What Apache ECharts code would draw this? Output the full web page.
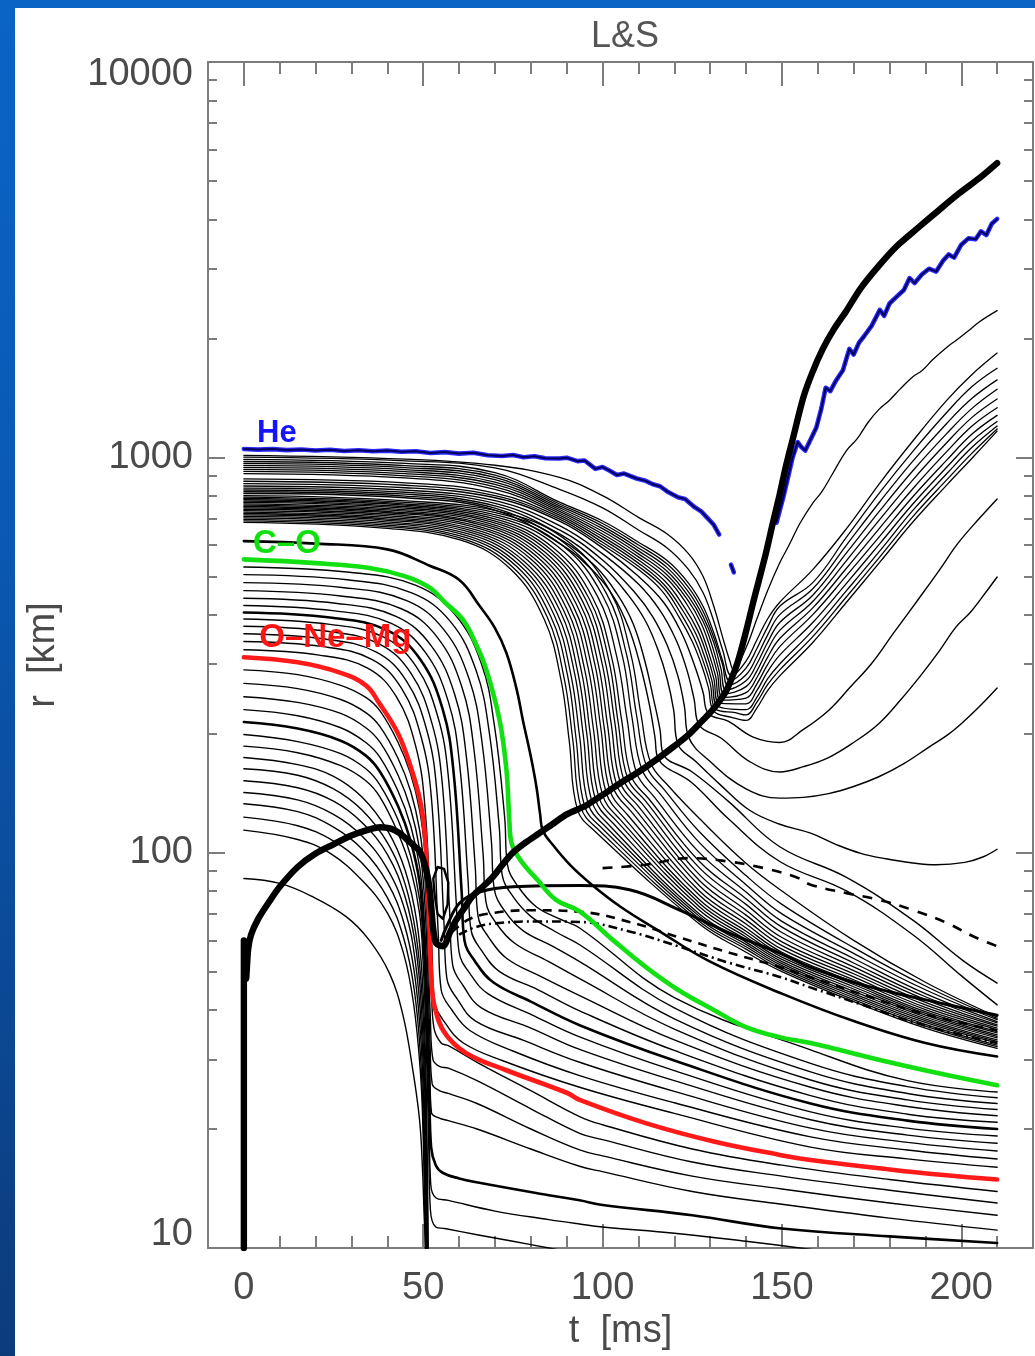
<!DOCTYPE html>
<html>
<head>
<meta charset="utf-8">
<script src="https://cdn.jsdelivr.net/npm/echarts@6/dist/echarts.min.js"></script>
<style>
html, body { margin: 0; padding: 0; width: 1035px; height: 1356px; overflow: hidden; }
body { background: linear-gradient(180deg, #0a64c6 0%, #0a5ab6 35%, #0b4a98 70%, #0c3b7a 100%); }
#panel { position: absolute; left: 15px; top: 8px; width: 1020px; height: 1348px; background: #fff; }
#chart { position: absolute; left: 0; top: 0; width: 1035px; height: 1356px; }
</style>
</head>
<body>
<div id="panel"></div>
<div id="chart"></div>
<script>
// ---- axis ticks ----
const tMajorTicks = [0, 50, 100, 150, 200];
const rDecadeTicks = [10, 100, 1000, 10000];
const rMinorTicks = [20, 30, 40, 50, 60, 70, 80, 90, 200, 300, 400, 500, 600, 700, 800, 900,
  2000, 3000, 4000, 5000, 6000, 7000, 8000, 9000];

// ---- trajectories: [t (ms), r (km)] ----
// shells inside the O-Ne-Mg boundary
const innerShells = [
  [[0,290],[15,282],[27,265],[34,247],[38,228],[43,190],[46.5,158],[49,128],[50.5,100],[51.5,70],[52.3,45],[53,36],[55,33],[57,32.5],[65,29.5],[80,25],[93.6,21.5],[100,20.5],[125,17.8],[150,16.2],[180,14.9],[210,13.9]],
  [[0,268],[15,260],[27,244],[34,226],[38,208],[43,173],[46.5,143],[49,114],[50.4,88],[51.3,60],[52,38],[52.7,30],[54.5,28.8],[57,28.5],[65,26.5],[80,22.5],[93.6,19.5],[100,18.8],[125,16.5],[150,15.2],[180,14],[210,13]],
  [[0,248],[15,240],[27,225],[34,207],[38,190],[43,157],[46.5,129],[49,102],[50.3,78],[51.2,52],[51.9,33],[52.5,26],[54.5,25],[57,24.6],[65,23.2],[80,20],[93.6,17.7],[100,17.1],[125,15.2],[150,14.1],[180,13],[210,12.1]],
  [[0,230],[15,222],[27,207],[34,190],[38,174],[43,143],[46.5,117],[49,92],[50.2,70],[51.1,46],[51.8,29],[52.3,22],[54.5,21.3],[57,21],[65,20],[80,17.8],[93.6,16.1],[100,15.6],[125,13.9],[150,12.9],[180,11.9],[210,11.1]],
  [[0,199],[15,191],[27,178],[34,163],[38,148],[43,121],[46.5,98],[49,76],[50.1,57],[50.9,37],[51.6,22],[52.1,14.5],[53.5,13.4],[57,13.2],[70,12.4],[85,11.8],[93.6,11.5],[100,11.3],[120,10.9],[140,10.4],[155,10],[170,9.6]],
  [[0,186],[15,179],[27,166],[34,152],[38,138],[43,112],[46.5,91],[49,70],[50,52],[50.8,34],[51.5,19],[52,12.5],[53.5,11.3],[56,11.2],[65,10.8],[75,10.4],[85,10],[95,9.6]],
  [[0,174],[15,167],[25,156],[33,138],[40,114],[45,90],[48.2,67],[49.8,47],[50.7,29],[51.2,15],[51.5,8]],
  [[0,163],[15,157],[25,145],[33,128],[40,106],[45,83],[48,62],[49.7,43],[50.6,26],[51.1,14],[51.4,8]],
  [[0,152],[15,146],[25,135],[33,119],[40,99],[45,77],[48,57],[49.6,39],[50.5,24],[51,13],[51.3,8]],
  [[0,142],[15,136],[25,125],[33,110],[40,91],[45,71],[47.8,53],[49.5,36],[50.4,22],[50.9,12.5],[51.2,8]],
  [[0,133],[15,127],[25,116],[33,102],[40,84],[44.5,67],[47.5,50],[49.4,33],[50.3,20],[50.8,11.5],[51.1,8]],
  [[0,123],[15,117],[25,107],[33,94],[40,77],[44.5,61],[47.5,45],[49.3,30],[50.2,18],[50.7,10.5],[51,8]],
  [[0,114],[15,108],[24,99.7],[33,85],[40,70.4],[44.5,55.7],[47.3,41.6],[49.2,28],[50,19],[50.5,11],[50.8,8]],
  [[0,86],[10,83.6],[19,77.5],[28.6,68.8],[35,60],[40.6,49.5],[44.3,39],[47.1,28.2],[49,21],[49.8,15.8],[50.3,11.8],[50.6,10.3],[50.8,8]]
];
const innerShellThick = [[0,214],[15,206],[27,192],[34,176],[38,160],[43,131],[46.5,107],[49,84],[50.1,63],[51,41],[51.7,25],[52.2,18],[53.5,16.2],[55.4,15.5],[60,15],[66,14.6],[85,13.6],[93.6,13.2],[100,12.85],[125,12.1],[150,11.2],[180,10.7],[210,10.3]];

// O-Ne-Mg boundary
const oNeMgShell = [[0,312],[15,303],[27,285],[34,265],[37.6,240],[43,200],[46.5,165],[49,137],[50.3,115],[51,92],[51.8,63],[52.3,47],[53.2,40.7],[56,35],[62,31.1],[73,28.2],[90,24.7],[93.6,23.7],[112,20.7],[131,18.6],[149.4,17.2],[158,16.7],[180,15.8],[195,15.3],[210,14.9]];

// shells between O-Ne-Mg and C-O boundaries
const midShells = [
  [[0,326],[21,316],[34.5,293],[42.5,248],[47.9,186],[50.5,130],[52.4,58],[53.2,42],[56.2,37],[61.2,33],[72,29.8],[93.6,25.5],[120,21.9],[158,18],[185,16.8],[210,16]],
  [[0,342],[22,332],[35.8,308],[44,260],[49.5,195],[52.3,137],[54.2,62],[55,45],[58,40],[63,35.5],[75,31.5],[93.6,27.3],[120,23.3],[158,19.1],[185,17.7],[210,16.8]],
  [[0,358],[22.6,347],[36.8,322],[45.3,272],[51,204],[53.8,143],[55.8,66],[56.6,48],[59.6,42.5],[64.6,37.5],[78,33.5],[93.6,29.5],[120,24.9],[158,20.1],[185,18.5],[210,17.6]],
  [[0,374],[23.3,363],[37.8,337],[46.6,284],[52.4,213],[55.3,150],[57.4,70],[58.2,52],[61.2,46],[66.2,40.5],[80,36],[93.6,31.8],[120,26.5],[158,21.1],[185,19.3],[210,18.4]],
  [[0,390],[24,378],[39,351],[48,296],[54,222],[57,156],[59.2,75],[60,56],[63,49.5],[68,44],[80,39],[93.6,34.2],[120,28.1],[158,22.1],[185,20.1],[210,19.2]],
  [[0,422],[25.3,409],[41.1,380],[50.6,321],[57,241],[60.1,169],[62.5,85],[63.3,64],[66.3,56.5],[71.3,50],[82,45],[93.6,39.8],[120,31.6],[158,24.3],[185,21.8],[210,20.8]],
  [[0,440],[26,427],[42.4,396],[52.2,334],[58.8,251],[62,176],[64.5,92],[65.3,69],[68.3,61],[73.3,54],[83,48.5],[93.6,43.5],[120,33.6],[158,25.5],[185,22.8],[210,21.6]],
  [[0,460],[27,446],[43.9,414],[54,350],[60.8,262],[64.1,184],[66.7,99],[67.5,75],[70.5,66],[75.5,59],[85,53],[93.6,48],[120,35.8],[158,26.6],[185,23.7],[210,22.4]],
  [[0,482],[28,468],[45.4,434],[55.8,366],[62.8,275],[66.3,193],[69,107],[69.8,81],[72.8,71],[77.8,63.5],[86,58],[93.6,53],[120,38],[158,27.9],[185,24.6],[210,23.2]],
  [[0,505],[28.8,490],[46.8,454],[57.6,384],[64.8,288],[68.4,202],[71.2,116],[72,88],[75,77.5],[80,69],[87,63],[93.6,58.5],[120,40.5],[158,29.3],[185,25.6],[210,24]],
  [[0,528],[29.4,512],[47.8,475],[58.8,401],[66.2,301],[69.8,211],[72.7,123],[73.5,93],[76.5,82],[81.5,73],[88,68],[93.6,64.5],[120,43],[158,31.7],[185,26.5],[210,24.8]]
];
const midShellThick = [[0,405],[24.6,393],[40,365],[49.2,308],[55.4,231],[58.4,162],[60.7,80],[61.5,60],[64.5,53],[69.5,47],[80,42],[93.6,36.6],[120,29.8],[158,23.2],[185,21],[210,20]];

// C-O boundary
const coShell = [[0,552],[20,540],[35,525],[45,500],[51.8,468],[56,430],[61,389],[64.5,340],[67.6,290],[71.3,216],[73.2,162],[74,121],[74.6,106],[77,96],[82,85],[87,76],[93.6,71],[103,60],[112,51.4],[121,45],[131,40],[140,36.2],[149,34.2],[158,33],[180,29.5],[195,27.5],[210,25.8]];

// first shell outside C-O (heavy)
const outerShellThick = [[0,614],[20,605],[40,585],[51.8,532],[60,490],[65.8,420],[70,370],[73.2,320],[76,260],[77.8,216],[80,175],[81.6,146],[82.6,125],[83.3,114],[86,105],[91,93],[97,83],[105,73],[115,64],[130,53],[150,44],[170,37.5],[190,33],[210,30.5]];

// shells that settle onto the accretion layer
const accretedShells = [
  [[0,685],[37.2,664],[60.5,617],[74.4,521],[83.7,390],[88.4,274],[90.7,192],[93,128.5],[98,113],[127,66],[140,56],[150,50],[170,42],[190,36],[210,32]],
  [[0,691],[37.6,670],[61.1,622],[75.2,525],[84.6,394],[89.3,276],[91.7,193],[94,130],[99,114],[127,67],[140,57],[150,50.6],[170,42.5],[190,36.4],[210,32.3]],
  [[0,697],[38,676],[61.8,627],[76,530],[85.5,397],[90.3,279],[92.6,195],[95,131],[100,115],[127,68],[140,57.8],[150,51.2],[170,43],[190,36.8],[210,32.6]],
  [[0,703],[38.4,682],[62.4,633],[76.8,534],[86.4,401],[91.2,281],[93.6,197],[96,133],[101,116],[127,69],[140,58.6],[150,51.8],[170,43.5],[190,37.2],[210,33]],
  [[0,709],[38.8,688],[63.1,638],[77.6,539],[87.3,404],[92.2,284],[94.6,199],[97,135],[102,117],[127,70],[140,59.4],[150,52.4],[170,44],[190,37.6],[210,33.3]],
  [[0,715],[39.2,694],[63.7,644],[78.4,543],[88.2,408],[93.1,286],[95.6,200],[98,136.5],[103,118.5],[127,71.5],[140,60.3],[150,53],[170,44.6],[190,38],[210,33.6]],
  [[0,721],[39.6,699],[64.4,649],[79.2,548],[89.1,411],[94.1,288],[96.5,202],[99,138],[104,120],[127,73],[140,61.2],[150,53.7],[170,45.2],[190,38.4],[210,34]],
  [[0,727],[40,705],[65,654],[80,553],[90,414],[95,291],[97.5,204],[100,140],[105,121],[127,74.5],[140,62.2],[150,54.4],[170,45.8],[190,38.8],[210,34.3]],
  [[0,733],[40.4,711],[65.7,660],[80.8,557],[90.9,418],[96,293],[98.5,205],[101,142],[106,122.5],[127,76],[140,63.3],[150,55.2],[170,46.4],[190,39.2],[210,34.6]],
  [[0,739],[40.8,717],[66.3,665],[81.6,562],[91.8,421],[96.9,296],[99.5,207],[102,144],[107,124.5],[127,78],[140,64.5],[150,56],[170,47],[190,39.6],[210,35]],
  [[0,745],[41.2,723],[67,671],[82.4,566],[92.7,425],[97.9,298],[100.4,209],[103,146],[108,127],[127,80],[140,66],[150,57],[170,47.7],[190,40.1],[210,35.3]],
  [[0,751],[41.6,728],[67.6,676],[83.2,571],[93.6,428],[98.8,300],[101.4,210],[104,148],[109,129],[127,82.5],[140,67.6],[150,58.2],[170,48.5],[190,40.6],[210,35.7]],
  [[0,757],[42,734],[68.3,681],[84,575],[94.5,431],[99.8,303],[102.4,212],[105,150],[110,131],[127,85],[140,69.5],[150,59.5],[170,49.4],[190,41.2],[210,36]],
  [[0,763],[42.4,740],[68.9,687],[84.8,580],[95.4,435],[100.7,305],[103.4,214],[106,152],[111,133],[127,88],[140,71.5],[150,61],[170,50.3],[190,41.8],[210,36.4]],
  [[0,769],[42.8,746],[69.6,692],[85.6,584],[96.3,438],[101.7,308],[104.3,215],[107,154],[112,135],[127,91.5],[140,74],[150,62.8],[170,51.4],[190,42.5],[210,36.7]],
  [[0,775],[43.2,752],[70.2,698],[86.4,589],[97.2,442],[102.6,310],[105.3,217],[108,156],[113,136.5],[127,95],[140,76.5],[150,64.8],[170,52.6],[190,43.2],[210,37.1]],
  [[0,781],[43.8,758],[71.2,703],[87.6,594],[98.6,445],[104,312],[106.8,219],[109.5,159],[114.5,138],[127,100],[140,79.5],[150,67],[170,54],[190,44],[210,37.4]],
  [[0,787],[44.4,763],[72.2,708],[88.8,598],[99.9,449],[105.5,315],[108.2,220],[111,162],[116,141],[127,106],[140,83],[150,70],[170,55.6],[190,45],[210,37.8]],
  [[0,793],[44.9,769],[73,714],[89.8,603],[101.1,452],[106.7,317],[109.5,222],[112.3,165],[117.3,144],[127,113],[140,87.5],[150,74],[170,57.5],[190,46],[210,38.1]],
  [[0,800],[45.4,776],[73.8,720],[90.8,608],[102.2,456],[107.8,320],[110.7,224],[113.5,168],[118.5,147],[127,122],[140,94],[150,80],[170,60],[190,47],[210,38.4]]
];

// shells that stall behind the shock and sink slowly
const stalledShells = [
  [[0,810],[45,790],[70,735],[88,606],[97,520],[103,445],[107.3,370],[110.5,298],[113,238],[114.6,196],[115.5,173],[125,150],[135,122],[149.4,95],[168,80],[186.5,62],[200.4,48.5],[210,41.2]],
  [[0,818],[45,798],[70,744],[88,622],[98,530],[104,452],[108.5,380],[111.8,305],[114.2,245],[116,205],[117,177],[125,160],[135,135],[149.4,103.5],[168,86.6],[186.5,67.5],[200.4,53.4],[210,46.8]],
  [[0,827],[45,807],[70,754],[88,640],[100,530],[107,450],[112,385],[115.5,325],[118,275],[119.8,230],[121,188],[126,170],[133,148],[141,128],[149.4,118],[158,112],[165,105],[172,99.6],[179,96.5],[186,94.3],[193,93.2],[201,94.5],[206,97.5],[210,102]]
];

// shells that turn around and move outward
const risingShells = [
  [[0,836],[45,816],[70,765],[88,655],[100,550],[109,455],[114,395],[118,335],[121,280],[122.8,235],[124,196],[130,170],[140,145],[149.4,137.4],[156,138],[163,141],[170,147],[177,155.6],[184,168],[191,185],[196,198],[200,212],[205,234],[210,261]],
  [[0,846],[45,826],[70,777],[88,672],[100,570],[110,478],[116,410],[120.5,345],[123.5,290],[125.5,245],[127,210],[133,195],[141,170],[149.4,160],[156,165],[163,174],[170,190],[177,212],[183,243],[189,283],[194,325],[198.5,372],[202.5,405],[206,445],[210,498]],
  [[0,858],[45,838],[70,790],[88,690],[100,590],[110,500],[117,430],[122,360],[125.5,300],[128,255],[129.5,225],[135,215],[142,196],[149.4,190],[156,205],[163,229],[169,262],[175,301],[181,358],[188,437],[194,520],[199,605],[205,700],[210,785]]
];

// outermost shells swept out by the shock
const ejectedShells = [
  [[0,870],[45,850],[70,800],[88,698],[100,600],[110,520],[116.5,460],[121.5,392],[125,342],[127.5,300],[129.5,262],[131,228],[136,220],[140,216],[143,232],[146,257],[149.4,280],[158.6,340],[168,430],[177.3,543],[186.5,686],[196,852],[203,995],[210,1165]],
  [[0,882],[45,862],[70,812],[88,706],[100,610],[110,530],[117,468],[122,400],[125.5,350],[128,306],[130,268],[131.5,231],[137,226],[140,223],[143,240],[146,266],[149.4,290],[158.6,352],[168,444],[177.3,560],[186.5,708],[196,878],[203,1025],[210,1180]],
  [[0,910],[45,887],[70,830],[88,714],[100,620],[110,540],[117,478],[122.5,408],[126,358],[128.5,312],[130.5,272],[132,235],[140,230],[143,247],[146,275],[149.4,300],[158.6,365],[168,460],[177.3,580],[186.5,734],[196,910],[203,1060],[210,1200]],
  [[0,921],[45,898],[70,842],[88,722],[100,630],[110,550],[117.5,485],[123,415],[126.5,365],[129,318],[131,276],[132.5,239],[140,238],[143,257],[146,287],[149.4,316],[158.6,382],[168,480],[177.3,605],[186.5,762],[196,945],[203,1100],[210,1232]],
  [[0,932],[45,909],[70,854],[88,730],[100,640],[110,560],[118,493],[123.5,425],[127,372],[129.5,322],[131.5,280],[133,243],[140,246],[143,267],[146,299],[149.4,332],[158.6,400],[168,502],[177.3,632],[186.5,795],[196,985],[203,1145],[210,1277]],
  [[0,943],[45,920],[70,866],[88,738],[100,650],[110,570],[118,504],[124,432],[127.5,380],[130,330],[132,285],[133.5,247],[140,254],[143,277],[146,312],[149.4,348],[158.6,416],[168,524],[177.3,663],[186.5,833],[196,1035],[203,1200],[210,1335]],
  [[0,954],[45,931],[70,878],[88,746],[100,660],[110,580],[118,515],[124,444],[128,385],[130.5,335],[132.5,288],[134,252],[140,263],[143,288],[146,326],[149.4,365],[158.6,432],[168,548],[177.3,697],[186.5,877],[196,1090],[203,1262],[210,1405]],
  [[0,965],[45,942],[70,890],[88,754],[100,670],[110,590],[118,526],[124,456],[128,396],[131,340],[133,292],[134.5,258],[140,272],[143,300],[146,340],[149.4,382],[158.6,448],[168,573],[177.3,733],[186.5,925],[196,1150],[203,1330],[210,1487]],
  [[0,976],[45,953],[70,902],[88,762],[100,680],[110,600],[118,537],[124,468],[128,408],[131,350],[133.5,298],[135,265],[140,282],[143,313],[146,355],[149.4,400],[158.6,465],[168,600],[177.3,772],[186.5,978],[196,1220],[203,1410],[210,1570]],
  [[0,988],[45,965],[70,915],[88,770],[100,690],[110,610],[118,548],[124,480],[128,420],[131,360],[133.5,305],[135.5,272],[140,293],[143,328],[146,372],[149.4,420],[158.6,482],[168,628],[177.3,815],[186.5,1035],[196,1300],[203,1510],[210,1680]],
  [[0,1001],[45,980],[70,940],[88,830],[100,745],[110,655],[118,590],[124,520],[128,455],[131,385],[133.5,325],[136,280],[140,305],[143,345],[146,390],[149.4,430],[158.6,520],[168,660],[177.3,861],[186.5,1100],[196,1395],[203,1620],[210,1835]],
  [[0,1012],[45,990],[70,955],[88,890],[100,800],[110,705],[118,640],[124,570],[128,500],[131,420],[133.5,350],[135.5,305],[136.5,290],[140,330],[143,390],[146,460],[149.4,541],[152,600],[155,680],[158.6,766],[161,815],[164,905],[168,1040],[171,1115],[174,1225],[177,1320],[180,1395],[183,1490],[186.5,1600],[189,1655],[192,1765],[196,1900],[199,1990],[202,2090],[205,2200],[210,2350]]
];

// He boundary (three pieces)
const heEarly = [[0,1050],[4,1046],[8,1049],[12,1043],[16,1047],[20,1041],[24,1045],[28,1038],[32,1042],[36,1036],[40,1040],[44,1033],[48,1036],[52,1026],[56,1031],[60,1022],[64,1027],[68,1012],[72,1008],[75,1014],[78,1000],[81,1006],[84,995],[88,993],[90,998],[93,978],[95,982],[98,935],[100,945],[102,925],[104,902],[106,910],[109.5,884],[112,872],[114,855],[116,845],[118,820],[121,793],[123,785],[125.5,750],[127.5,730],[129.4,700],[131,675],[132.5,638]];
const heDot = [[135.8,535],[136.6,512]];
const heLate = [[148.5,684],[150.5,800],[152,914],[153,1000],[154.4,1092],[155.5,1060],[156.5,1040],[158,1110],[159.6,1190],[161,1330],[162.2,1500],[163.5,1470],[165,1560],[167,1660],[168.8,1880],[170,1820],[171.5,1950],[173,2030],[175,2150],[177.3,2360],[178.5,2280],[180,2450],[182,2550],[184,2650],[185.6,2840],[187,2760],[189,2900],[191,3000],[193,2950],[195,3150],[196.5,3260],[198,3200],[200,3450],[202,3580],[204,3560],[205.5,3730],[207,3650],[208.5,3900],[210,4010]];

// shock trajectory (heavy line)
const shockRadius = [[0,10],[0,60],[0.6,48],[1.2,57],[2,62],[4,68],[7,75],[10,82],[15,92],[20,99.5],[25,105],[30,110.5],[35,114.5],[38,116],[41,115],[43.4,112],[46,107],[48,103],[49,101],[50.2,95],[51,89],[51.7,82],[52.3,72],[52.8,64],[53.6,59],[55.5,58],[57.5,63],[59.2,67.6],[61.5,72.5],[63.7,77.5],[66.6,82],[69.3,86.6],[72,93],[75,100],[78.5,106],[82.4,112],[86,118],[90,125],[95,131],[100,140],[105,150],[110,160],[115,172],[120,186],[124,199],[127,212],[130,226],[132.5,241],[134.5,257],[136,276],[137.5,300],[139,335],[140.5,378],[142,430],[143.5,485],[145.5,570],[147.5,684],[149.3,800],[151,940],[153,1110],[156,1420],[158.5,1640],[161.4,1880],[164.5,2110],[168,2350],[172,2680],[177,3050],[182,3420],[188,3810],[193.5,4200],[199.5,4660],[205,5080],[210,5550]];
const bounceLoop = [[52.8,86],[54,92],[55.8,91],[57,84],[56.8,74],[55.5,68],[54,70],[53.2,78],[52.8,86]];

// other characteristic radii
const heavyRadius = [[55,60],[56.5,64.9],[60.1,74.5],[65.7,79.5],[75,82],[93.6,82.6],[107.5,80.6],[121.5,71.6],[135.4,62.6],[149.4,55.7],[157.7,51.4],[170,47],[180,44.5],[195,41.5],[210,38.8]];
const dashedUpper = [[100,91.4],[112,93.2],[124,96.9],[135,95],[145,91.4],[154,86.7],[158,83],[168,79],[177,76],[186.5,71.6],[196,66.4],[204,61],[210,58]];
const dashedLower = [[58,63],[63,68],[70,70.5],[80,71.5],[93.6,70.9],[107.5,66.8],[121.5,61],[135.4,55.8],[149.4,51.4],[157.7,48.5],[175,43],[190,39],[210,35.5]];
const dashDotted = [[60,62],[65,65],[72,66.5],[82,67],[93.6,66.8],[107.5,63.2],[121.5,57.8],[135.4,52.6],[149.4,48.5],[157.7,45.7],[175,40.5],[190,36.5],[210,33]];

// composition labels: [t, r, text, colour, size]
const compositionLabels = [
  [9.2, 1146, 'He', '#1414ff', 31],
  [12.0, 605, 'C–O', '#10e010', 33],
  [25.5, 350, 'O–Ne–Mg', '#ff1414', 33]
];

// ---- chart ----
const FONT = '"Liberation Sans", Arial, sans-serif';
const AXIS_GREY = '#7c7c7c';
const TEXT_GREY = '#4a4a4a';

function line(data, width, color, extra) {
  return Object.assign({
    type: 'line', data: data, xAxisIndex: 0, yAxisIndex: 0,
    showSymbol: false, symbol: 'none', silent: true,
    smooth: 0.4,
    lineStyle: { width: width, color: color, cap: 'round', join: 'round' },
    z: 2
  }, extra || {});
}

const series = [];
innerShells.forEach(d => series.push(line(d, 1.4, '#000')));
midShells.forEach(d => series.push(line(d, 1.4, '#000')));
accretedShells.forEach(d => series.push(line(d, 1.3, '#000')));
stalledShells.forEach(d => series.push(line(d, 1.4, '#000')));
risingShells.forEach(d => series.push(line(d, 1.4, '#000')));
ejectedShells.forEach(d => series.push(line(d, 1.3, '#000')));
series.push(line(innerShellThick, 2.6, '#000'));
series.push(line(midShellThick, 2.6, '#000'));
series.push(line(outerShellThick, 2.6, '#000'));
series.push(line(heavyRadius, 3, '#000'));
series.push(line(dashedUpper, 2.6, '#000', { lineStyle: { width: 2.6, color: '#000', type: [10, 9] } }));
series.push(line(dashedLower, 2.6, '#000', { lineStyle: { width: 2.6, color: '#000', type: [9, 7] } }));
series.push(line(dashDotted, 2.6, '#000', { lineStyle: { width: 2.6, color: '#000', type: [9, 4, 2, 4] } }));
series.push(line(oNeMgShell, 4.6, '#ff1a1a', { z: 3 }));
series.push(line(coShell, 4.6, '#12e012', { z: 3 }));
[heEarly, heDot, heLate].forEach(d => {
  series.push(line(d, 4.6, '#2a2aff', { smooth: false, z: 3 }));
  series.push(line(d, 2.0, '#00005a', { smooth: false, z: 3 }));
});
series.push(line(shockRadius, 6.4, '#000', { smooth: 0.3, z: 4 }));
series.push(line(bounceLoop, 2.4, '#000', { smooth: false, z: 4 }));
compositionLabels.forEach(l => series.push({
  type: 'scatter', data: [[l[0], l[1]]], symbol: 'circle', symbolSize: 2, silent: true,
  itemStyle: { color: 'rgba(255,255,255,0)' }, z: 5,
  label: { show: true, position: 'inside', formatter: l[2], color: l[3], opacity: 1,
    fontSize: l[4], fontWeight: 'bold', fontFamily: FONT }
}));

const tickStyle = { color: AXIS_GREY, width: 2 };
const labelFont = { fontSize: 38, color: TEXT_GREY, fontFamily: FONT };

function xAxis(position, major, withLabels) {
  return {
    type: 'value', min: -10, max: 220, position: position, gridIndex: 0,
    interval: major ? undefined : 10,
    splitLine: { show: false },
    axisLine: { show: major, onZero: false, lineStyle: { color: AXIS_GREY, width: 2 } },
    axisTick: major
      ? { show: true, inside: true, length: 24, customValues: tMajorTicks, lineStyle: tickStyle }
      : { show: true, inside: true, length: 12, lineStyle: tickStyle },
    axisLabel: withLabels
      ? Object.assign({ show: true, customValues: tMajorTicks, margin: 22 }, labelFont)
      : { show: false },
    name: withLabels ? 't  [ms]' : '',
    nameLocation: 'middle', nameGap: 62,
    nameTextStyle: labelFont
  };
}
function yAxis(position, major, withLabels) {
  return {
    type: 'log', logBase: 10, min: 10, max: 10000, position: position, gridIndex: 0,
    splitLine: { show: false },
    axisLine: { show: major, onZero: false, lineStyle: { color: AXIS_GREY, width: 2 } },
    axisTick: major
      ? { show: true, inside: true, length: 17, customValues: rDecadeTicks, lineStyle: tickStyle }
      : { show: true, inside: true, length: 9, customValues: rMinorTicks, lineStyle: tickStyle },
    axisLabel: withLabels
      ? {
          show: true, customValues: rDecadeTicks, margin: 15,
          formatter: v => (v <= 10 ? '{lo|' + v + '}' : v >= 10000 ? '{hi|' + v + '}' : '{mid|' + v + '}'),
          rich: {
            lo: Object.assign({ padding: [0, 0, 26, 0] }, labelFont),
            hi: Object.assign({ padding: [26, 0, 0, 0] }, labelFont),
            mid: Object.assign({}, labelFont)
          }
        }
      : { show: false },
    name: withLabels ? 'r  [km]' : '',
    nameLocation: 'middle', nameGap: 145, nameRotate: 90,
    nameTextStyle: labelFont
  };
}

const chart = echarts.init(document.getElementById('chart'), null, { renderer: 'canvas' });
chart.setOption({
  animation: false,
  backgroundColor: 'transparent',
  grid: { left: 208, top: 62, width: 825, height: 1186, containLabel: false },
  title: {
    text: 'L&S', left: 620, top: 14, textAlign: 'center',
    textStyle: { fontSize: 36, fontWeight: 'normal', color: '#555', fontFamily: FONT }
  },
  xAxis: [xAxis('bottom', true, true), xAxis('bottom', false, false), xAxis('top', true, false), xAxis('top', false, false)],
  yAxis: [yAxis('left', true, true), yAxis('left', false, false), yAxis('right', true, false), yAxis('right', false, false)],
  series: series
});
</script>
</body>
</html>
